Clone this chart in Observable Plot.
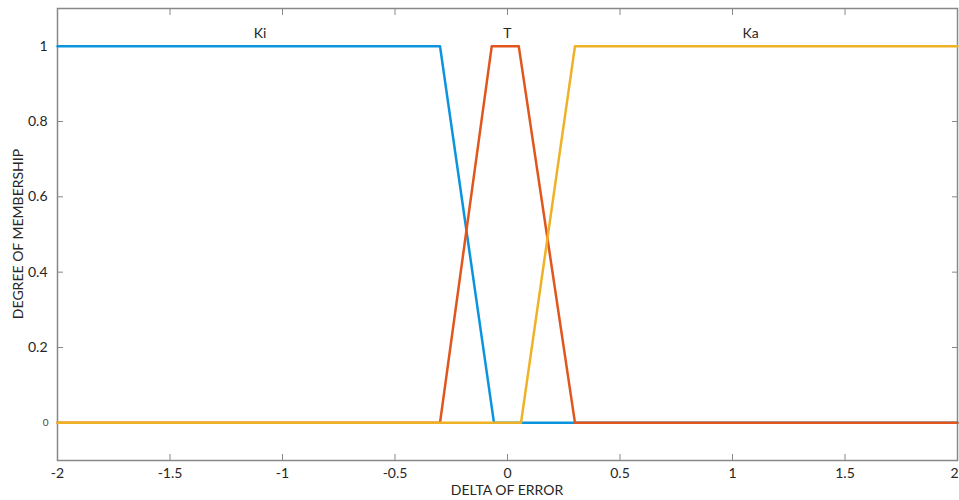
<!DOCTYPE html>
<html>
<head>
<meta charset="utf-8">
<script src="https://cdn.jsdelivr.net/npm/d3@7"></script>
<script src="https://cdn.jsdelivr.net/npm/@observablehq/plot@0.6"></script>
<style>
  html, body { margin: 0; padding: 0; background: #fff; }
  #chart svg { display: block; }
</style>
</head>
<body>
<div id="chart"></div>
<script>
// Membership functions (breakpoints)
const kiX = [-2, -0.3, -0.06, 2];
const kiY = [1, 1, 0, 0];
const tX  = [-2, -0.3, -0.07, 0.05, 0.3, 2];
const tY  = [0, 0, 1, 1, 0, 0];
const kaX = [-2, 0.06, 0.3, 2];
const kaY = [0, 0, 1, 1];

const labelNames = ["Ki", "T", "Ka"];
const labelX = [-1.1, 0, 1.08];
const labelY = [1, 1, 1];

const xTicks = [-2, -1.5, -1, -0.5, 0, 0.5, 1, 1.5, 2];
const xTicksInner = xTicks.slice(0, -1);
const xTicksLast = xTicks.slice(-1);
const yTicksMain = [0.2, 0.4, 0.6, 0.8, 1];
const yTicksZero = [0];

const colors = { Ki: "#0b93dd", T: "#e0561d", Ka: "#efb125" };

const toRows = (xs, ys) => xs.map((x, i) => ({ x, y: ys[i] }));
const ki = toRows(kiX, kiY);
const t = toRows(tX, tY);
const ka = toRows(kaX, kaY);
const labels = labelNames.map((name, i) => ({ name, x: labelX[i], y: labelY[i] }));

const fmt = d => String(d);
const axisColor = "#888";
const textColor = "#262626";

const chart = Plot.plot({
  width: 959,
  height: 500,
  marginLeft: 57,
  marginRight: 2,
  marginTop: 8,
  marginBottom: 40,
  style: { fontFamily: "Lato, 'Open Sans', sans-serif", background: "#fff" },
  x: { domain: [-2, 2] },
  y: { domain: [-0.1, 1.1] },
  marks: [
    Plot.frame({ stroke: axisColor, strokeWidth: 1.5 }),
    // bottom axis: labels
    Plot.axisX(xTicksInner, { anchor: "bottom", tickSize: 0, tickPadding: 8, tickFormat: fmt, fontSize: 14, color: textColor, label: null }),
    Plot.axisX(xTicksLast, { anchor: "bottom", tickSize: 0, tickPadding: 8, tickFormat: fmt, fontSize: 14, color: textColor, label: null, dx: -3 }),
    // inward tick marks on all sides
    Plot.axisX(xTicks, { anchor: "bottom", tickSize: -6, tickFormat: () => "", stroke: axisColor, label: null }),
    Plot.axisX(xTicks, { anchor: "top", tickSize: -6, tickFormat: () => "", stroke: axisColor, label: null }),
    Plot.axisY([...yTicksZero, ...yTicksMain], { anchor: "left", tickSize: -6, tickFormat: () => "", stroke: axisColor, label: null }),
    Plot.axisY([...yTicksZero, ...yTicksMain], { anchor: "right", tickSize: -6, tickFormat: () => "", stroke: axisColor, label: null }),
    // left axis labels
    Plot.axisY(yTicksMain, { anchor: "left", tickSize: 0, tickPadding: 10, tickFormat: fmt, fontSize: 14, color: textColor, label: null }),
    Plot.axisY(yTicksZero, { anchor: "left", tickSize: 0, tickPadding: 9, tickFormat: fmt, fontSize: 10, color: "#444", label: null }),
    // curves
    Plot.line(ki, { x: "x", y: "y", stroke: colors.Ki, strokeWidth: 2.5, strokeLinejoin: "round" }),
    Plot.line(t,  { x: "x", y: "y", stroke: colors.T,  strokeWidth: 2.5, strokeLinejoin: "round" }),
    Plot.line(ka, { x: "x", y: "y", stroke: colors.Ka, strokeWidth: 2.5, strokeLinejoin: "round" }),
    // function names
    Plot.text(labels, { x: "x", y: "y", text: "name", dy: -13, fontSize: 14, fill: textColor })
  ]
});

const svg = d3.select(chart);
// Axis titles
svg.append("text")
  .attr("x", 57 + (959 - 57 - 2) / 2)
  .attr("y", 495)
  .attr("text-anchor", "middle")
  .attr("font-size", 14)
  .attr("fill", textColor)
  .attr("font-family", "Lato, 'Open Sans', sans-serif")
  .text("DELTA OF ERROR");
svg.append("text")
  .attr("transform", `translate(23, ${8 + (500 - 8 - 40) / 2}) rotate(-90)`)
  .attr("text-anchor", "middle")
  .attr("font-size", 14)
  .attr("fill", textColor)
  .attr("font-family", "Lato, 'Open Sans', sans-serif")
  .text("DEGREE OF MEMBERSHIP");

document.getElementById("chart").appendChild(chart);
</script>
</body>
</html>
